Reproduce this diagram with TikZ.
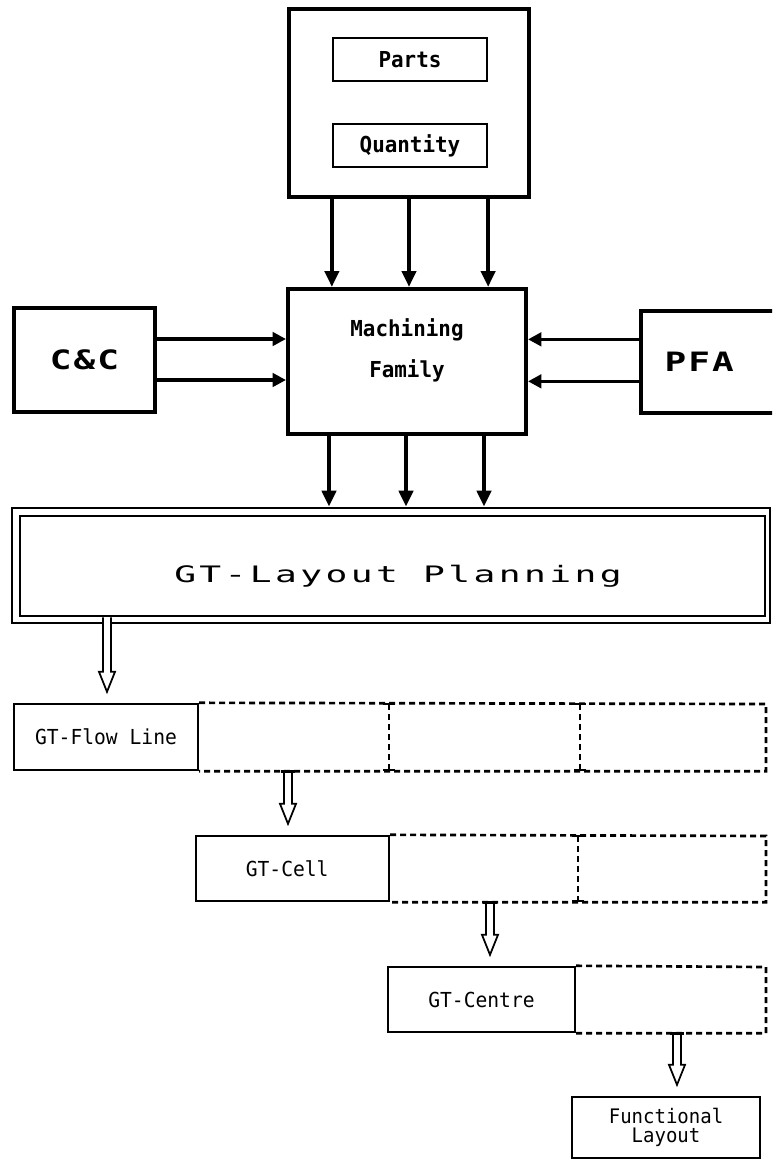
\documentclass[tikz,border=0pt]{standalone}
\usepackage{fontspec}
\usetikzlibrary{arrows.meta,fit,calc}
\newfontfamily\dotfont{DejaVu Sans Mono}[FakeStretch=0.95]
\newfontfamily\widefont{DejaVu Sans Mono}[FakeStretch=1.6,LetterSpace=15]
\newfontfamily\ccfont{DejaVu Sans Mono}[FakeStretch=1.35,LetterSpace=8]
\newcommand\openarr[2]{%
  \draw[oaline] ($(#1)+(-4,0)$) -- ($(#2)+(-4,-31)$) -- ($(#2)+(-8,-31)$) -- ($(#2)+(0,-11)$) -- ($(#2)+(8,-31)$) -- ($(#2)+(4,-31)$) -- ($(#1)+(4,0)$);}
\tikzset{
  bigbox/.style={draw, line width=3pt, inner sep=0pt},
  smallbox/.style={draw, line width=1.7pt, inner sep=0pt},
  lowbox/.style={draw, line width=1.8pt, inner sep=0pt},
  lbl/.style={font=\dotfont\bfseries\fontsize{16.5}{18}\selectfont, align=center},
  lowlbl/.style={font=\dotfont\fontsize{15.5}{16}\selectfont, align=center},
  cclbl/.style={font=\ccfont\bfseries\fontsize{20}{20}\selectfont},
  fatarrow/.style={line width=3.5pt, -{Triangle[length=12pt,width=10.5pt]}},
  sidearrow/.style={line width=2.6pt, -{Triangle[length=10pt,width=10pt]}},
  dashline/.style={line width=2pt, dash pattern=on 4.5pt off 3pt},
  oaline/.style={line width=1.3pt, line join=miter},
  bar/.style={line width=2.4pt},
  tick/.style={line width=2pt},
  dbl/.style={draw, line width=2pt, inner sep=0pt},
}
\begin{document}
\begin{tikzpicture}[x=0.75pt,y=-0.75pt]
\useasboundingbox (0,0) rectangle (772,1164);
\clip (0,0) rectangle (772,1164);
\fill[white] (0,0) rectangle (772,1164);

% top block
\node[bigbox, fit={(289,9) (529,197)}] (src) {};
\node[smallbox, fit={(333,38) (487,81)}, label={[lbl]center:Parts}] (parts) {};
\node[smallbox, fit={(333,124) (487,167)}, label={[lbl]center:Quantity}] (qty) {};

% machining family
\node[bigbox, fit={(288,289) (526,434)}] (mach) {};
\node[lbl, font=\dotfont\bfseries\fontsize{16.5}{31}\selectfont] (machtext) at (407,350) {Machining\\Family};

% side boxes
\node[bigbox, fit={(14,308) (155,412)}, label={[cclbl]center:C\&C}] (cc) {};
\node[bigbox, fit={(641,311) (776,413)}, label={[cclbl,xshift=-7pt]center:PFA}] (pfa) {};

% arrows into machining
\draw[fatarrow] (src.south -| parts.west) -- (mach.north -| parts.west);
\draw[fatarrow] (src.south) -- (src.south |- mach.north);
\draw[fatarrow] (src.south -| parts.east) -- (mach.north -| parts.east);

\draw[sidearrow] ([yshift=15.75pt]cc.east) -- ([yshift=15.75pt]cc.east -| mach.west);
\draw[sidearrow] ([yshift=-15pt]cc.east) -- ([yshift=-15pt]cc.east -| mach.west);
\draw[sidearrow] ([yshift=17pt]pfa.west) -- ([yshift=17pt]pfa.west -| mach.east);
\draw[sidearrow] ([yshift=-14.5pt]pfa.west) -- ([yshift=-14.5pt]pfa.west -| mach.east);

% layout planning
\node[dbl, fit={(12,508) (770,623)}] (lpo) {};
\node[dbl, fit={(20,516) (765,616)}] (lpi) {};
\node[font=\widefont\fontsize{17}{18}\selectfont] (lptext) at (398,576) {GT-Layout Planning};

\coordinate (b1) at (329,0);
\coordinate (b2) at (406,0);
\coordinate (b3) at (484,0);
\draw[fatarrow] (b1 |- mach.south) -- (b1 |- lpo.north);
\draw[fatarrow] (b2 |- mach.south) -- (b2 |- lpo.north);
\draw[fatarrow] (b3 |- mach.south) -- (b3 |- lpo.north);

% lower boxes
\node[lowbox, fit={(14,704) (198,770)}, label={[lowlbl]center:GT-Flow Line}] (flow) {};
\node[lowbox, fit={(196,836) (389,901)}, label={[lowlbl,xshift=-4pt]center:GT-Cell}] (cell) {};
\node[lowbox, fit={(388,967) (575,1032)}, label={[lowlbl]center:GT-Centre}] (centre) {};
\node[lowbox, fit={(572,1097) (760,1158)}, label={[lowlbl, font=\dotfont\fontsize{15}{14}\selectfont]center:Functional\\Layout}] (func) {};

% dashed extensions
\coordinate (r1) at (766,704);
\coordinate (r2) at (766,836);
\coordinate (r3) at (766,967);
\draw[dashline] (flow.north east) -- (r1) -- (r1 |- flow.south) -- (flow.south east);
\draw[dashline] (389,704) -- (389,770);
\draw[dashline] (580,704) -- (580,770);
\draw[tick] (383,704) -- (395,704) (383,770) -- (395,770) (574,704) -- (586,704) (574,770) -- (586,770);
\draw[dashline] (cell.north east) -- (r2) -- (r2 |- cell.south) -- (cell.south east);
\draw[dashline] (578,836) -- (578,901);
\draw[tick] (572,836) -- (584,836) (572,901) -- (584,901);
\draw[dashline] (centre.north east) -- (r3) -- (r3 |- centre.south) -- (centre.south east);

% open arrows
\coordinate (a1) at (107,0);
\coordinate (a2) at (288,0);
\coordinate (a3) at (490,0);
\coordinate (a4) at (677,0);
\fill[white] (103.8,618.5) rectangle (110.2,627);
\openarr{a1 |- lpi.south}{a1 |- flow.north}
\fill[white] (284.8,772) rectangle (291.2,776);
\openarr{a2 |- flow.south}{a2 |- cell.north}
\draw[bar] ($(a2 |- flow.south)+(-7,0)$) -- ($(a2 |- flow.south)+(7,0)$);
\fill[white] (486.8,903) rectangle (493.2,907);
\openarr{a3 |- cell.south}{a3 |- centre.north}
\draw[bar] ($(a3 |- cell.south)+(-7,0)$) -- ($(a3 |- cell.south)+(7,0)$);
\fill[white] (673.8,1034) rectangle (680.2,1038);
\openarr{a4 |- centre.south}{a4 |- func.north}
\draw[bar] ($(a4 |- centre.south)+(-7,0)$) -- ($(a4 |- centre.south)+(7,0)$);
\end{tikzpicture}
\end{document}
